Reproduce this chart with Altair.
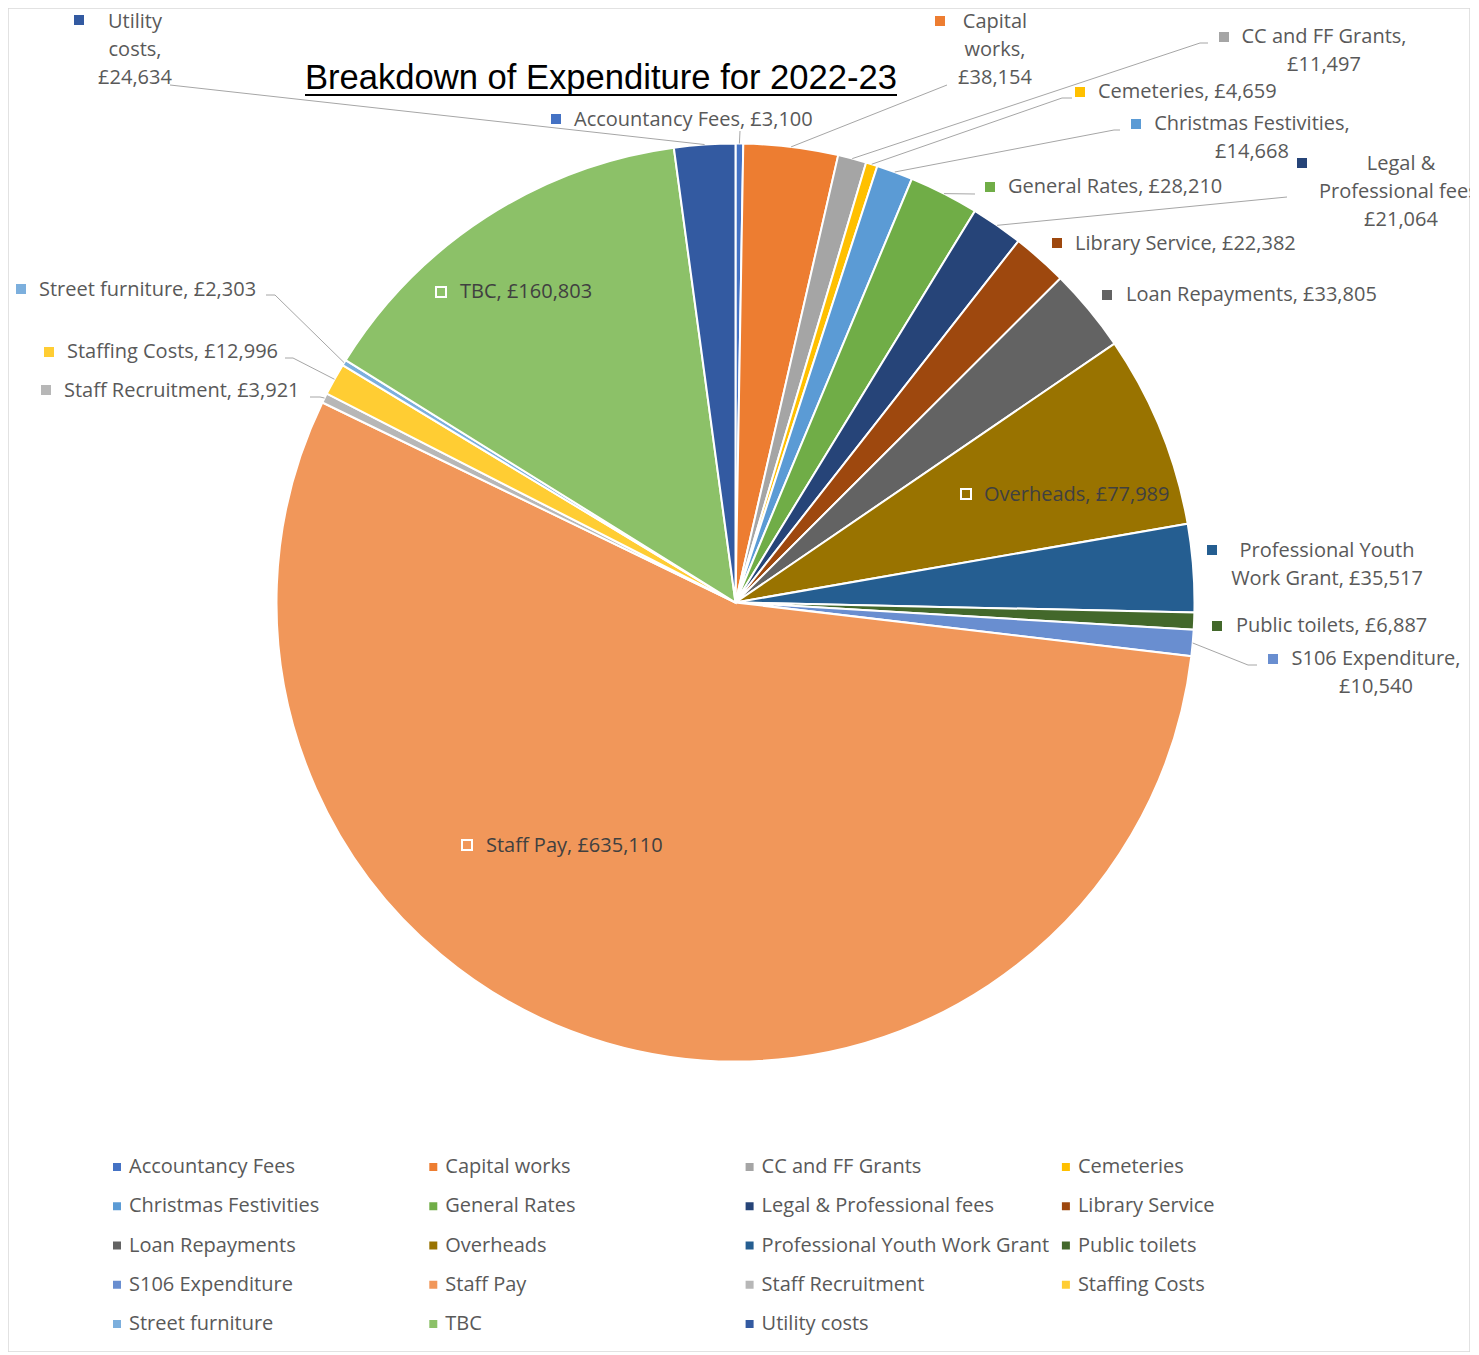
import altair as alt
import pandas as pd

# ---------------- data ----------------
categories = ["Accountancy Fees", "Capital works", "CC and FF Grants", "Cemeteries",
              "Christmas Festivities", "General Rates", "Legal & Professional fees",
              "Library Service", "Loan Repayments", "Overheads",
              "Professional Youth Work Grant", "Public toilets", "S106 Expenditure",
              "Staff Pay", "Staff Recruitment", "Staffing Costs", "Street furniture",
              "TBC", "Utility costs"]
values = [3100, 38154, 11497, 4659, 14668, 28210, 21064, 22382, 33805, 77989,
          35517, 6887, 10540, 635110, 3921, 12996, 2303, 160803, 24634]
colors = ["#4472C4", "#ED7D31", "#A5A5A5", "#FFC000", "#5B9BD5", "#70AD47",
          "#264478", "#9E480E", "#636363", "#997300", "#255E91", "#43682B",
          "#698ED0", "#F1975A", "#B7B7B7", "#FFCD33", "#7CAFDD", "#8CC168", "#335AA1"]
title_text = "Breakdown of Expenditure for 2022-23"

# ---------------- layout (reference pixel coordinates) ----------------
OFF = 8
W, H = 1462, 1344
CX, CY, R = 735.5 - OFF, 602.5 - OFF, 459
FONT = "Open Sans"
FS = 20
LINE = 28

# mode, marker x, marker y, text x, text y, words per line
label_layout = {
    "Accountancy Fees": ("left", 556, 119, 574, 120, None),
    "Capital works": ("center", 940, 21, 995, 22, [1, 1, 1]),
    "CC and FF Grants": ("center", 1224, 37, 1324, 37, [4, 1]),
    "Cemeteries": ("left", 1080, 92, 1098, 92, None),
    "Christmas Festivities": ("center", 1136, 124, 1252, 124, [2, 1]),
    "General Rates": ("left", 990, 187, 1008, 187, None),
    "Legal & Professional fees": ("center", 1302, 163, 1401, 164, [2, 2, 1]),
    "Library Service": ("left", 1057, 243, 1075, 244, None),
    "Loan Repayments": ("left", 1107, 295, 1126, 295, None),
    "Overheads": ("inside", 966, 494, 984, 495, None),
    "Professional Youth Work Grant": ("center", 1212, 550, 1327, 551, [2, 3]),
    "Public toilets": ("left", 1217, 626, 1236, 626, None),
    "S106 Expenditure": ("center", 1273, 659, 1376, 659, [2, 1]),
    "Staff Pay": ("inside", 467, 845, 486, 846, None),
    "Staff Recruitment": ("left", 46, 390, 64, 391, None),
    "Staffing Costs": ("left", 49, 352, 67, 352, None),
    "Street furniture": ("left", 21, 289, 39, 290, None),
    "TBC": ("inside", 441, 292, 460, 292, None),
    "Utility costs": ("center", 79, 20, 135, 22, [1, 1, 1]),
}

leader_layout = {
    "Accountancy Fees": [(740, 131)],
    "Capital works": [(947, 85)],
    "CC and FF Grants": [(1208, 43), (1200, 43)],
    "Cemeteries": [(1072, 98), (1062, 98)],
    "Christmas Festivities": [(1120, 130), (1114, 130)],
    "General Rates": [(975, 194)],
    "Legal & Professional fees": [(1287, 197)],
    "S106 Expenditure": [(1257, 665), (1248, 665)],
    "Staff Recruitment": [(310, 397), (320, 397)],
    "Staffing Costs": [(285, 358), (293, 358)],
    "Street furniture": [(266, 295), (275, 295)],
    "Utility costs": [(170, 85)],
}

# ---------------- tables ----------------
rows = []
for i, (c, v) in enumerate(zip(categories, values)):
    pts = leader_layout.get(c)
    rows.append({"cat": c, "val": v, "idx": i,
                 "lx": (pts[-1][0] - OFF) if pts else None,
                 "ly": (pts[-1][1] - OFF) if pts else None})
df = pd.DataFrame(rows)

text_rows, marker_rows, elbow_rows = [], [], []
for c, v in zip(categories, values):
    mode, mx, my, tx, ty, wrap = label_layout[c]
    words = f"{c}, £{v:,}".split(" ")
    groups = wrap or [len(words)]
    k = 0
    for j, n in enumerate(groups):
        text_rows.append({"cat": c, "t": " ".join(words[k:k + n]), "mode": mode,
                          "x": tx - OFF, "y": ty - OFF + j * LINE,
                          "tc": "#404040" if mode == "inside" else "#595959"})
        k += n
    marker_rows.append({"cat": c, "mode": mode, "x": mx - OFF, "y": my - OFF})
    pts = leader_layout.get(c)
    if pts and len(pts) == 2:
        elbow_rows.append({"x": pts[0][0] - OFF, "y": pts[0][1] - OFF,
                           "x2": pts[1][0] - OFF, "y2": pts[1][1] - OFF})
tdf = pd.DataFrame(text_rows)
mdf = pd.DataFrame(marker_rows)
edf = pd.DataFrame(elbow_rows)

color_scale = alt.Scale(domain=categories, range=colors)

# ---------------- layers ----------------
pie = alt.Chart(df).mark_arc(radius=R, stroke="white", strokeWidth=2).encode(
    theta=alt.Theta("val:Q", stack=True),
    order=alt.Order("idx:Q"),
    color=alt.Color("cat:N", scale=color_scale, legend=None),
    x=alt.value(CX), y=alt.value(CY),
)

leaders = alt.Chart(df).transform_joinaggregate(
    total="sum(val)"
).transform_window(
    cum="sum(val)", sort=[alt.SortField("idx")], frame=[None, 0]
).transform_calculate(
    mid="(datum.cum - datum.val / 2) / datum.total * 2 * PI",
    ex=f"{CX} + {R} * sin(datum.mid)",
    ey=f"{CY} - {R} * cos(datum.mid)",
).transform_filter("isValid(datum.lx)").mark_rule(color="#A6A6A6", strokeWidth=1).encode(
    x=alt.X("lx:Q", scale=None, axis=None), y=alt.Y("ly:Q", scale=None, axis=None),
    x2="ex:Q", y2="ey:Q",
)

elbows = alt.Chart(edf).mark_rule(color="#A6A6A6", strokeWidth=1).encode(
    x=alt.X("x:Q", scale=None, axis=None), y=alt.Y("y:Q", scale=None, axis=None),
    x2="x2:Q", y2="y2:Q",
)

markers_out = alt.Chart(mdf).transform_filter("datum.mode != 'inside'").mark_square(
    size=100, opacity=1
).encode(
    x=alt.X("x:Q", scale=None, axis=None), y=alt.Y("y:Q", scale=None, axis=None),
    color=alt.Color("cat:N", scale=color_scale, legend=None),
)
markers_in = alt.Chart(mdf).transform_filter("datum.mode == 'inside'").mark_square(
    size=100, filled=False, stroke="white", strokeWidth=2, opacity=1
).encode(
    x=alt.X("x:Q", scale=None, axis=None), y=alt.Y("y:Q", scale=None, axis=None),
)

text_left = alt.Chart(tdf).transform_filter("datum.mode != 'center'").mark_text(
    font=FONT, fontSize=FS, align="left", baseline="middle"
).encode(
    x=alt.X("x:Q", scale=None, axis=None), y=alt.Y("y:Q", scale=None, axis=None),
    text="t:N", color=alt.Color("tc:N", scale=None),
)
text_center = alt.Chart(tdf).transform_filter("datum.mode == 'center'").mark_text(
    font=FONT, fontSize=FS, align="center", baseline="middle"
).encode(
    x=alt.X("x:Q", scale=None, axis=None), y=alt.Y("y:Q", scale=None, axis=None),
    text="t:N", color=alt.Color("tc:N", scale=None),
)

# legend grid (4 columns)
LGX0, LGDX, LGY0, LGDY = 117 - OFF, 316.3, 1167 - OFF, 39.25
legend_base = alt.Chart(df).transform_calculate(
    col="datum.idx % 4", row="floor(datum.idx / 4)",
).transform_calculate(
    lgx=f"{LGX0} + datum.col * {LGDX}", lgy=f"{LGY0} + datum.row * {LGDY}",
    lgt=f"{LGX0} + 12 + datum.col * {LGDX}",
)
legend_sym = legend_base.mark_square(size=64, opacity=1).encode(
    x=alt.X("lgx:Q", scale=None, axis=None), y=alt.Y("lgy:Q", scale=None, axis=None),
    color=alt.Color("cat:N", scale=color_scale, legend=None),
)
legend_txt = legend_base.mark_text(
    font=FONT, fontSize=FS, align="left", baseline="middle", color="#595959"
).encode(
    x=alt.X("lgt:Q", scale=None, axis=None), y=alt.Y("lgy:Q", scale=None, axis=None),
    text="cat:N",
)

title = alt.Chart(pd.DataFrame({"t": [title_text]})).mark_text(
    font="Liberation Sans", fontSize=34.6, align="center", baseline="alphabetic", color="black"
).encode(x=alt.value(601 - OFF), y=alt.value(89 - OFF), text="t:N")

underline = alt.Chart(pd.DataFrame({"t": [title_text]})).mark_rule(
    color="black", strokeWidth=2
).encode(x=alt.value(305 - OFF), x2=alt.value(897 - OFF), y=alt.value(95 - OFF))

chart = alt.layer(
    pie, leaders, elbows, markers_out, markers_in, text_left, text_center,
    legend_sym, legend_txt, title, underline
).properties(
    width=W, height=H, autosize=alt.AutoSizeParams(type="none"), padding=0,
    background="white",
).configure_view(stroke="#D9D9D9", strokeWidth=1.5)

chart.save("out.html", embed_options={"renderer": "svg", "actions": False})
